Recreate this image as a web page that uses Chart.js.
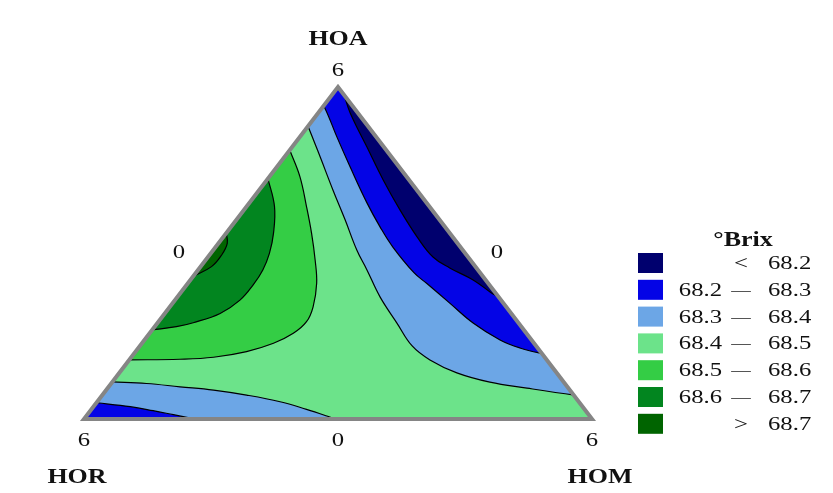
<!doctype html>
<html lang="en">
  <head>
    <meta charset="utf-8">
    <title>°Brix ternary contour</title>
    <style>
      * {
        margin: 0;
        padding: 0;
      }
      body {
        background: white;
      }
      .chartBox {
        width: 833px;
        height: 493px;
      }
    </style>
  </head>
  <body>
    <div class="chartBox">
      <canvas id="myChart"></canvas>
    </div>
    <script src="https://cdn.jsdelivr.net/npm/chart.js/dist/chart.umd.min.js"></script>
    <script>
    // plot units: x 0..1 along the base (HOR -> HOM), y 0..1 from base up to the HOA apex
    // contour lines; first and last points sit just outside the triangle
    const line84right = [
      [0.425, 0.940], [0.441, 0.882], [0.465, 0.789], [0.490, 0.690], [0.514, 0.600], [0.537, 0.509],
      [0.557, 0.449], [0.583, 0.367], [0.616, 0.289], [0.646, 0.220], [0.681, 0.178],
      [0.734, 0.139], [0.799, 0.111], [0.872, 0.093], [0.965, 0.072], [1.030, 0.060]
    ];
    const line83right = [
      [0.455, 0.985], [0.474, 0.937], [0.498, 0.849], [0.524, 0.759], [0.557, 0.651], [0.583, 0.578],
      [0.608, 0.518], [0.650, 0.440], [0.675, 0.408], [0.720, 0.349], [0.766, 0.289],
      [0.819, 0.238], [0.858, 0.214], [0.902, 0.197], [0.960, 0.180]
    ];
    const line82right = [
      [0.500, 1.030], [0.512, 0.976], [0.524, 0.922], [0.557, 0.819], [0.589, 0.720], [0.622, 0.630],
      [0.656, 0.548], [0.687, 0.488], [0.720, 0.455], [0.766, 0.419], [0.800, 0.382], [0.816, 0.367],
      [0.850, 0.335]
    ];
    const line85left = [
      [0.390, 0.870], [0.405, 0.810], [0.425, 0.730], [0.438, 0.640], [0.448, 0.559], [0.455, 0.479],
      [0.458, 0.409], [0.451, 0.338], [0.438, 0.293], [0.412, 0.258], [0.373, 0.228],
      [0.320, 0.203], [0.255, 0.186], [0.189, 0.180], [0.089, 0.178], [0.030, 0.177]
    ];
    const line86left = [
      [0.352, 0.790], [0.362, 0.725], [0.375, 0.640], [0.373, 0.559], [0.365, 0.499], [0.352, 0.449],
      [0.333, 0.404], [0.307, 0.358], [0.268, 0.318], [0.215, 0.290], [0.182, 0.278],
      [0.134, 0.268], [0.090, 0.259]
    ];
    const line87left = [
      [0.276, 0.590], [0.280, 0.559], [0.282, 0.529], [0.271, 0.494], [0.251, 0.459], [0.214, 0.429],
      [0.180, 0.400]
    ];
    const line84bottom = [
      [0.000, 0.116], [0.056, 0.112], [0.123, 0.107], [0.189, 0.097], [0.255, 0.087], [0.320, 0.072],
      [0.386, 0.052], [0.438, 0.029], [0.478, 0.009], [0.494, 0], [0.530, -0.020]
    ];
    const line83bottom = [
      [-0.020, 0.057], [0.025, 0.049], [0.091, 0.037], [0.136, 0.025], [0.176, 0.013], [0.219, 0],
      [0.260, -0.013]
    ];

    const levelColors = ['#00006e', '#0404e6', '#6ca6e6', '#6ce38a', '#34cd45', '#02851f', '#006400'];
    const levelLow = ['', '68.2', '68.3', '68.4', '68.5', '68.6', ''];
    const levelHigh = ['68.2', '68.3', '68.4', '68.5', '68.6', '68.7', '68.7'];
    const levelSign = ['<', '\u2014', '\u2014', '\u2014', '\u2014', '\u2014', '>'];
    const legendTitle = '\u00b0Brix';

    const vertexNames = ['HOA', 'HOR', 'HOM'];
    const vertexTicks = ['6', '6', '6'];
    const midTicks = ['0', '0', '0'];

    const triangle = [[0, 0], [1, 0], [0.5, 1]];
    const pts = arr => arr.map(p => ({x: p[0], y: p[1]}));

    function region(points, outside, color, order, tension) {
      return {
        data: pts(points.concat(outside)),
        backgroundColor: color,
        borderWidth: 0,
        pointRadius: 0,
        tension: tension,
        fill: 'shape',
        order: order
      };
    }
    function contour(points) {
      return {
        data: pts(points),
        borderColor: '#000',
        borderWidth: 1.2,
        pointRadius: 0,
        tension: 0.4,
        fill: false,
        order: 1
      };
    }

    const datasets = [
      region([[-0.3, -0.3], [1.3, -0.3], [0.5, 1.4]], [], levelColors[3], 20, 0),
      region(line84right, [[1.3, 0.0], [0.5, 1.4], [0.2, 1.0]], levelColors[2], 19, 0.4),
      region(line83right, [[1.2, 0.3], [0.5, 1.3], [0.3, 1.0]], levelColors[1], 18, 0.4),
      region(line82right, [[1.1, 0.5], [0.7, 1.2]], levelColors[0], 17, 0.4),
      region(line85left, [[-0.15, 0.2], [0.2, 0.95], [0.35, 0.98]], levelColors[4], 16, 0.4),
      region(line86left, [[-0.1, 0.3], [0.2, 0.8], [0.3, 0.85]], levelColors[5], 15, 0.4),
      region(line87left, [[0.08, 0.4], [0.2, 0.62]], levelColors[6], 14, 0.4),
      region(line84bottom, [[0.3, -0.15], [-0.15, -0.05], [-0.15, 0.12]], levelColors[2], 13, 0.4),
      region(line83bottom, [[0.1, -0.15], [-0.15, -0.05]], levelColors[1], 12, 0.4),
      contour(line84right), contour(line83right), contour(line82right),
      contour(line85left), contour(line86left), contour(line87left),
      contour(line84bottom), contour(line83bottom)
    ];

    function trianglePath(chart) {
      const sx = chart.scales.x, sy = chart.scales.y;
      const ctx = chart.ctx;
      ctx.beginPath();
      triangle.forEach((p, i) => {
        const x = sx.getPixelForValue(p[0]), y = sy.getPixelForValue(p[1]);
        if (i === 0) ctx.moveTo(x, y); else ctx.lineTo(x, y);
      });
      ctx.closePath();
    }

    // text is drawn stretched sideways like the source picture
    function stretchText(ctx, text, x, y, font, align) {
      ctx.save();
      ctx.font = font;
      ctx.fillStyle = '#111';
      ctx.textAlign = align;
      ctx.textBaseline = 'middle';
      ctx.translate(x, y);
      ctx.scale(1.3, 1);
      ctx.fillText(text, 0, 0);
      ctx.restore();
    }

    const ternaryPlugin = {
      id: 'ternary',
      beforeDatasetsDraw(chart) {
        chart.ctx.save();
        trianglePath(chart);
        chart.ctx.clip();
      },
      afterDatasetsDraw(chart) {
        const ctx = chart.ctx;
        ctx.restore();
        ctx.save();
        trianglePath(chart);
        ctx.strokeStyle = '#858585';
        ctx.lineWidth = 4;
        ctx.lineJoin = 'miter';
        ctx.stroke();
        ctx.restore();
      },
      afterDraw(chart) {
        const ctx = chart.ctx;
        const sx = chart.scales.x, sy = chart.scales.y;
        const px = v => sx.getPixelForValue(v), py = v => sy.getPixelForValue(v);
        const bold = 'bold 20px "Liberation Serif"';
        const reg = '19px "Liberation Serif"';

        stretchText(ctx, vertexNames[0], px(0.5), py(1) - 47, bold, 'center');
        stretchText(ctx, vertexTicks[0], px(0.5), py(1) - 16, reg, 'center');
        stretchText(ctx, vertexTicks[1], px(0), py(0) + 22, reg, 'center');
        stretchText(ctx, vertexTicks[2], px(1), py(0) + 22, reg, 'center');
        stretchText(ctx, midTicks[0], px(0.5), py(0) + 22, reg, 'center');
        stretchText(ctx, midTicks[1], px(0.25) - 32, py(0.5), reg, 'center');
        stretchText(ctx, midTicks[2], px(0.75) + 32, py(0.5), reg, 'center');
        stretchText(ctx, vertexNames[1], px(0) - 7, py(0) + 59, bold, 'center');
        stretchText(ctx, vertexNames[2], px(1) + 8, py(0) + 59, bold, 'center');

        // legend
        stretchText(ctx, legendTitle, 743, 241, bold, 'center');
        levelColors.forEach((c, i) => {
          const y = 263 + i * 26.8;
          ctx.fillStyle = c;
          ctx.fillRect(638, y - 10, 25, 20);
          if (levelLow[i]) stretchText(ctx, levelLow[i], 722, y + 1, reg, 'right');
          const signFont = levelSign[i] === '\u2014' ? '15px "Liberation Serif"' : reg;
          stretchText(ctx, levelSign[i], 741, y + 1, signFont, 'center');
          stretchText(ctx, levelHigh[i], 768, y + 1, reg, 'left');
        });
      }
    };

    // config
    const config = {
      type: 'scatter',
      data: { datasets },
      options: {
        responsive: true,
        maintainAspectRatio: false,
        animation: false,
        showLine: true,
        layout: {
          padding: { left: 84, right: 241, top: 87, bottom: 74 }
        },
        scales: {
          x: { type: 'linear', min: 0, max: 1, display: false },
          y: { type: 'linear', min: 0, max: 1, display: false }
        },
        plugins: {
          legend: { display: false },
          tooltip: { enabled: false }
        }
      },
      plugins: [ternaryPlugin]
    };

    // render init block
    const myChart = new Chart(
      document.getElementById('myChart'),
      config
    );
    </script>
  </body>
</html>
